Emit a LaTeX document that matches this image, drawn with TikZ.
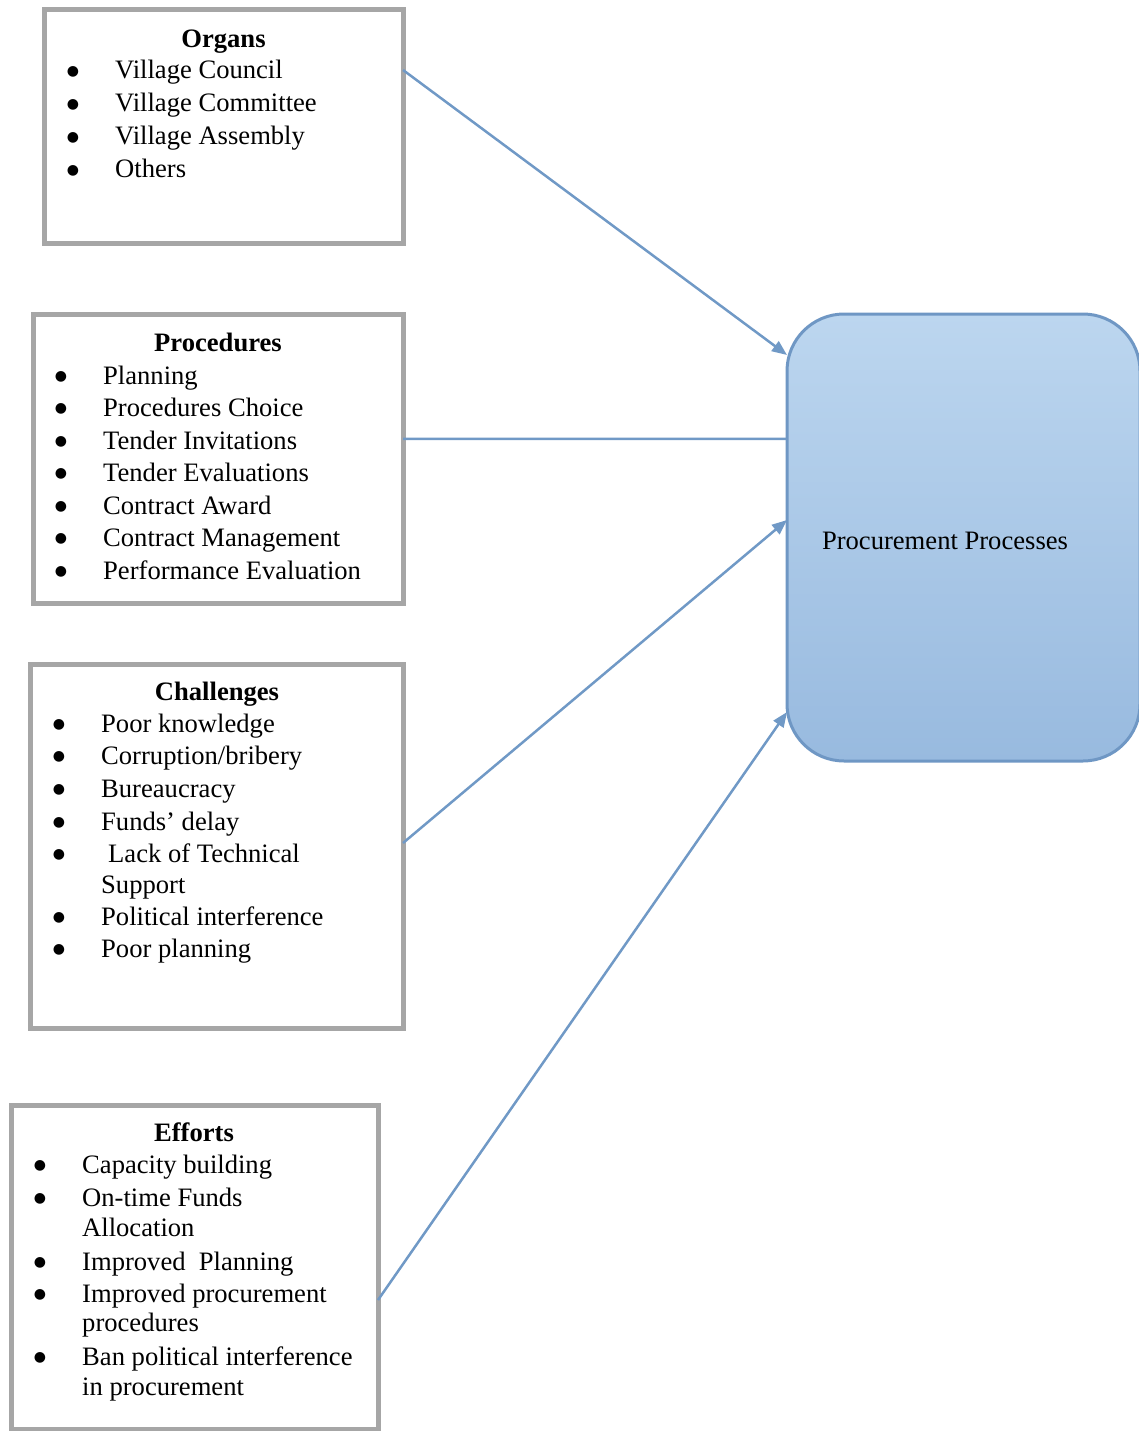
\documentclass[tikz,border=0pt]{standalone}
\usepackage{fontspec}
\setmainfont{Liberation Serif}
\newfontfamily\symfont{DejaVu Sans}
\usetikzlibrary{arrows.meta,calc}
\definecolor{boxgray}{HTML}{A6A6A6}
\definecolor{linkblue}{HTML}{7099C6}
\definecolor{procTop}{HTML}{BCD6EF}
\definecolor{procBot}{HTML}{98BADF}
\definecolor{procBorder}{HTML}{6F97C4}
\begin{document}
\begin{tikzpicture}[x=1pt,y=-1pt,
  grp/.style={draw=boxgray,line width=5pt,fill=white,inner sep=0pt,outer sep=0pt},
  ttl/.style={anchor=base,inner sep=0pt,font=\bfseries},
  item/.style={anchor=base west,inner sep=0pt},
  bul/.style={anchor=center,inner sep=0pt,yshift=7.5pt,font=\symfont\fontsize{14}{14}\selectfont},
  link/.style={draw=linkblue,line width=2.5pt},
  arr/.style={link,-{Triangle[length=15pt,width=12pt]}}]
\useasboundingbox (0,0) rectangle (1138,1431);
\fontsize{26.6}{33}\selectfont
% boxes
\node[grp,minimum width=359pt,minimum height=234pt] (organs) at (223.5,127) {};
\node[grp,minimum width=370pt,minimum height=289pt] (proced) at (218,458.5) {};
\node[grp,minimum width=373pt,minimum height=364pt] (chall) at (216.5,846) {};
\node[grp,minimum width=367pt,minimum height=324pt] (effort) at (194.5,1267) {};
\node[draw=procBorder,line width=3pt,rounded corners=57pt,top color=procTop,bottom color=procBot,
      minimum width=353pt,minimum height=447pt,inner sep=0pt,outer sep=0pt] (proc) at (963.5,537.5) {};
\node[inner sep=0pt] (proctext) at (945,541) {Procurement Processes};
% Organs
\node[ttl] (orgT) at (223.5,48) {Organs};
\foreach \y/\t [count=\i] in {79/{Village Council},112/{Village Committee},145/{Village Assembly},178/{Others}}{
  \node[bul] (orgB\i) at (73,\y) {●};
  \node[item] (orgI\i) at (115,\y) {\t};
}
% Procedures
\node[ttl] (proT) at (218,351) {Procedures};
\foreach \y/\t [count=\i] in {384/{Planning},416/{Procedures Choice},449/{Tender Invitations},481/{Tender Evaluations},514/{Contract Award},546/{Contract Management},579/{Performance Evaluation}}{
  \node[bul] (proB\i) at (61,\y) {●};
  \node[item] (proI\i) at (103,\y) {\t};
}
% Challenges
\node[ttl] (chaT) at (217,700) {Challenges};
\foreach \y [count=\i] in {732,764,797,830,862,925,957}{
  \node[bul] (chaB\i) at (59,\y) {●};
}
\node[item] (chaI1) at (101,732) {Poor knowledge};
\node[item] (chaI2) at (101,764) {Corruption/bribery};
\node[item] (chaI3) at (101,797) {Bureaucracy};
\node[item] (chaI4) at (101,830) {Funds’ delay};
\node[item] (chaI5) at (108,862) {Lack of Technical};
\node[item] (chaI5b) at (101,893) {Support};
\node[item] (chaI6) at (101,925) {Political interference};
\node[item] (chaI7) at (101,957) {Poor planning};
% Efforts
\node[ttl] (effT) at (194,1141.5) {Efforts};
\foreach \y [count=\i] in {1173,1206.5,1270,1302,1365}{
  \node[bul] (effB\i) at (40,\y) {●};
}
\node[item] (effI1) at (82,1173) {Capacity building};
\node[item] (effI2) at (82,1206.5) {On-time Funds};
\node[item] (effI2b) at (82,1236.5) {Allocation};
\node[item] (effI3) at (82,1270) {Improved\ \ Planning};
\node[item] (effI4) at (82,1302) {Improved procurement};
\node[item] (effI4b) at (82,1331.5) {procedures};
\node[item] (effI5) at (82,1365) {Ban political interference};
\node[item] (effI5b) at (82,1395) {in procurement};
% connectors
\draw[arr] ($(organs.north east)!0.2564!(organs.south east)$) -- ($(proc.north west)!0.0917!(proc.south west)$);
\draw[link] ($(proced.north east)!0.4325!(proced.south east)$) -- ($(proc.north west)!0.2796!(proc.south west)$);
\draw[arr] ($(chall.north east)!0.4918!(chall.south east)$) -- ($(proc.north west)!0.4609!(proc.south west)$);
\draw[arr] ($(effort.north east)!0.6019!(effort.south east)$) -- ($(proc.north west)!0.8904!(proc.south west)$);
\end{tikzpicture}
\end{document}
